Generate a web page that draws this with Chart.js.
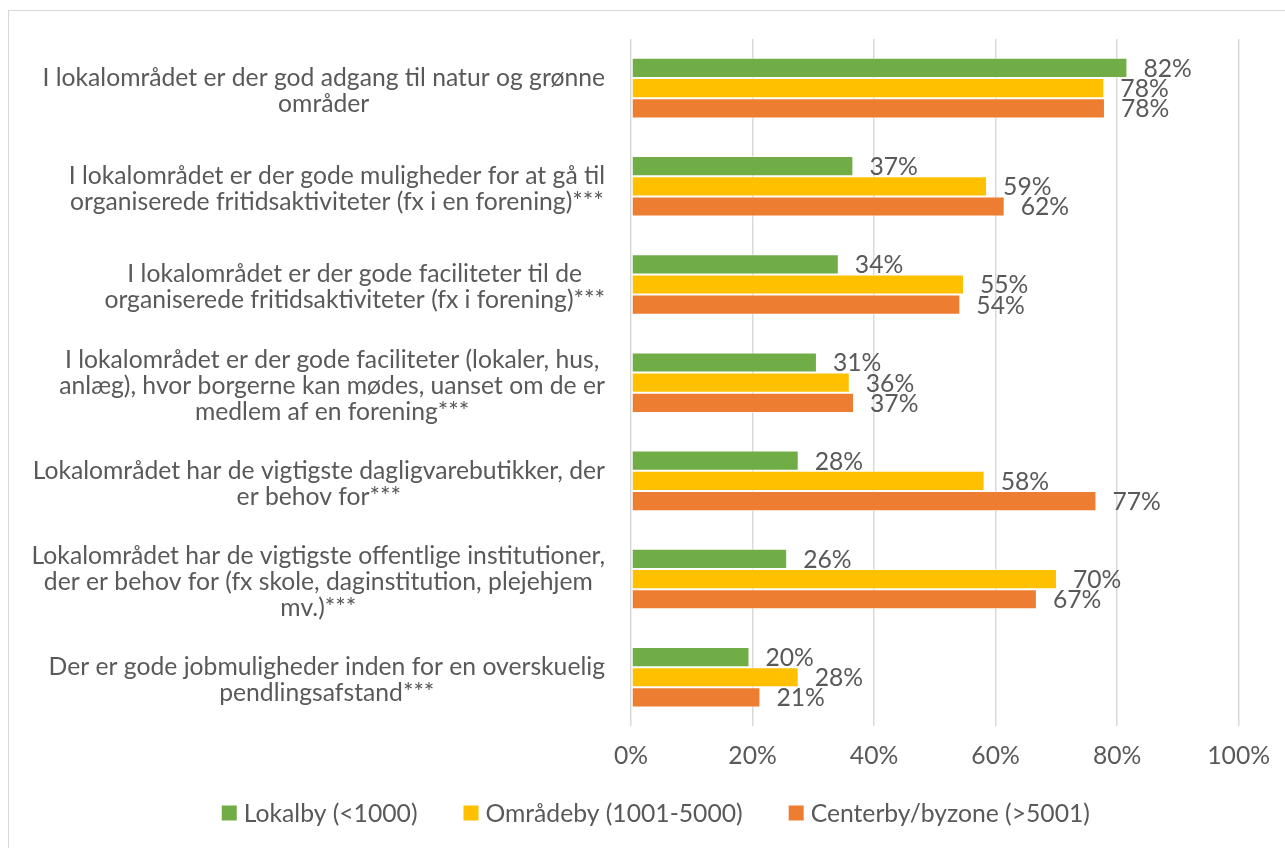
<!DOCTYPE html>
<html><head><meta charset="utf-8">
<script src="https://cdn.jsdelivr.net/npm/chart.js@4.4.0/dist/chart.umd.min.js"></script>
<style>
html,body{margin:0;padding:0;background:#fff;}
#wrap{position:relative;width:1285px;height:848px;overflow:hidden;}
#frame{position:absolute;left:8px;top:10px;width:1400px;height:1000px;border:1px solid #D9D9D9;box-sizing:border-box;}
canvas{position:absolute;left:0;top:0;}
</style></head><body>
<div id="wrap"><div id="frame"></div><canvas id="c" width="1285" height="848"></canvas></div>
<script>
const categories = [
  ['I lokalområdet er der god adgang til natur og grønne', 'områder'],
  ['I lokalområdet er der gode muligheder for at gå til', 'organiserede fritidsaktiviteter (fx i en forening)***'],
  ['I lokalområdet er der gode faciliteter til de', 'organiserede fritidsaktiviteter (fx i forening)***'],
  ['I lokalområdet er der gode faciliteter (lokaler, hus,', 'anlæg), hvor borgerne kan mødes, uanset om de er', 'medlem af en forening***'],
  ['Lokalområdet har de vigtigste dagligvarebutikker, der', 'er behov for***'],
  ['Lokalområdet har de vigtigste offentlige institutioner,', 'der er behov for (fx skole, daginstitution, plejehjem', 'mv.)***'],
  ['Der er gode jobmuligheder inden for en overskuelig', 'pendlingsafstand***']
];
const seriesNames = ['Lokalby (<1000)', 'Områdeby (1001-5000)', 'Centerby/byzone (>5001)'];
const lokalby  = [81.7, 36.6, 34.2, 30.6, 27.6, 25.7, 19.5];
const omradeby = [77.9, 58.6, 54.8, 36.0, 58.2, 70.1, 27.6];
const centerby = [78.0, 61.5, 54.2, 36.7, 76.6, 66.8, 21.3];
const xTickValues = [0, 20, 40, 60, 80, 100];

const FONT = 'Lato';
const FS = 24.7;
const TEXT = '#595959';

const catLabelPlugin = {
  id: 'catLabels',
  afterDraw(chart) {
    const y = chart.scales.y, ctx = chart.ctx;
    ctx.save();
    ctx.font = FS + 'px ' + FONT;
    ctx.fillStyle = TEXT;
    ctx.textBaseline = 'middle';
    ctx.textAlign = 'center';
    const right = chart.chartArea.left - 26;
    const LH = 26;
    chart.data.labels.forEach((lines, i) => {
      const cy = y.getPixelForValue(i) + 3;
      const w = Math.max(...lines.map(l => ctx.measureText(l).width));
      const cx = right - w / 2;
      const n = lines.length;
      lines.forEach((l, j) => ctx.fillText(l, cx, cy + (j - (n - 1) / 2) * LH));
    });
    ctx.restore();
  }
};

const valueLabelPlugin = {
  id: 'valueLabels',
  afterDatasetsDraw(chart) {
    const ctx = chart.ctx;
    ctx.save();
    ctx.font = FS + 'px ' + FONT;
    ctx.fillStyle = TEXT;
    ctx.textBaseline = 'middle';
    ctx.textAlign = 'left';
    chart.data.datasets.forEach((ds, di) => {
      const meta = chart.getDatasetMeta(di);
      meta.data.forEach((bar, i) => {
        ctx.fillText(Math.round(ds.data[i]) + '%', bar.x + 16, bar.y + 1);
      });
    });
    ctx.restore();
  }
};

// legend drawn from the datasets (Excel-like spacing)
const legendPlugin = {
  id: 'bottomLegend',
  afterDraw(chart) {
    const ctx = chart.ctx;
    const BOX = 15, GAP = 7, ITEM_GAP = 46;
    ctx.save();
    ctx.font = FS + 'px ' + FONT;
    ctx.textBaseline = 'middle';
    ctx.textAlign = 'left';
    const items = chart.data.datasets.map(ds => ({ text: ds.label, color: ds.backgroundColor, w: ctx.measureText(ds.label).width }));
    const total = items.reduce((s, it) => s + BOX + GAP + it.w, 0) + ITEM_GAP * (items.length - 1);
    const cx = (chart.scales.y.left + chart.chartArea.right) / 2;
    const cy = chart.scales.x.bottom + 27;
    let x = cx - total / 2;
    items.forEach(it => {
      ctx.fillStyle = it.color;
      ctx.fillRect(x, cy - BOX / 2, BOX, BOX);
      ctx.fillStyle = TEXT;
      ctx.fillText(it.text, x + BOX + GAP, cy + 1);
      x += BOX + GAP + it.w + ITEM_GAP;
    });
    ctx.restore();
  }
};

new Chart(document.getElementById('c'), {
  type: 'bar',
  data: {
    labels: categories,
    datasets: [
      { label: seriesNames[0], data: lokalby,  backgroundColor: '#70AD47' },
      { label: seriesNames[1], data: omradeby, backgroundColor: '#FFC000' },
      { label: seriesNames[2], data: centerby, backgroundColor: '#ED7D31' }
    ]
  },
  options: {
    indexAxis: 'y',
    responsive: false,
    animation: false,
    devicePixelRatio: 1,
    datasets: { bar: { categoryPercentage: 0.617, barPercentage: 1.0, borderWidth: 1, borderColor: 'rgba(255,255,255,0.6)', borderSkipped: false } },
    layout: { padding: { left: 73, right: 46, top: 39, bottom: 62 } },
    scales: {
      x: {
        min: 0, max: 100,
        afterBuildTicks: (s) => { s.ticks = xTickValues.map(v => ({ value: v })); },
        ticks: { callback: v => v + '%', color: TEXT, font: { family: FONT, size: FS }, padding: 15 },
        grid: { color: '#D9D9D9', lineWidth: 1.5, drawTicks: false },
        border: { display: false }
      },
      y: {
        ticks: { display: false },
        grid: { display: false },
        border: { display: false },
        afterFit: (s) => { s.width = 631 - 73; }
      }
    },
    plugins: {
      legend: { display: false },
      tooltip: { enabled: false }
    }
  },
  plugins: [catLabelPlugin, valueLabelPlugin, legendPlugin]
});
</script>
</body></html>
